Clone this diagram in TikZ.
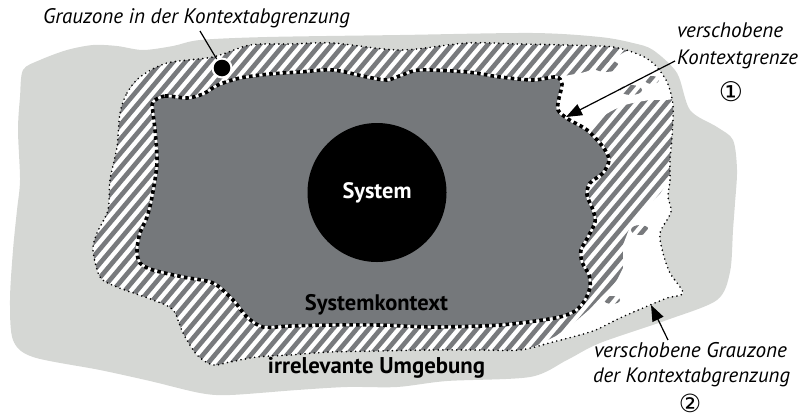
\documentclass[tikz,border=0pt]{standalone}
\usepackage{fontspec}
\setmainfont{PT Sans}
\newfontfamily\symfont{DejaVu Sans}
\usetikzlibrary{arrows.meta}
\definecolor{lgray}{RGB}{213,215,212}
\definecolor{dgray}{RGB}{117,120,123}
\definecolor{sgray}{RGB}{120,122,125}
\newcommand{\fw}[2]{\resizebox{#1pt}{!}{#2}}
\newcommand{\hatchlines}{\foreach \i in {-35,...,68} \draw[sgray, line width=4.6pt] (\i*12, 425) -- ++(364,-433);}
\def\pathG{plot[smooth cycle, tension=0.5] coordinates {(93,45) (117,46) (143,50) (173,46) (200,40) (267,37) (400,35) (533,33) (600,37) (633,43) (653,50) (677,73) (690,110) (717,127) (733,140) (737,170) (735,203) (733,230) (730,272) (717,300) (667,320) (600,343) (567,360) (530,377) (447,381) (397,387) (347,387) (297,390) (230,395) (200,393) (150,381) (100,370) (33,357) (13,340) (10,300) (13,250) (17,210) (20,180) (18,130) (20,97) (23,70) (40,60) (67,50)}}
\def\pathW{plot[smooth cycle, tension=0.5] coordinates {(120,113) (127,93) (140,77) (167,63) (213,57) (250,45) (290,44) (333,43) (400,50) (467,43) (520,44) (567,45) (613,47) (640,55) (655,65) (667,82) (673,105) (672,137) (670,160) (670,180) (668,197) (671,212) (660,233) (663,253) (670,273) (683,293) (667,298) (650,305) (620,318) (593,331) (553,342) (520,350) (480,350) (430,350) (380,351) (330,352) (290,355) (257,357) (230,362) (213,365) (197,355) (183,333) (173,310) (153,300) (117,287) (100,277) (93,250) (97,233) (108,210) (110,180) (117,147)}}
\def\pathK{plot[smooth cycle, tension=0.5] coordinates {(153,102) (165,96) (187,98) (203,94) (218,85) (240,78) (270,74) (300,72) (333,70) (367,77) (387,80) (402,75) (420,70) (467,72) (500,77) (533,80) (556,77) (562,84) (559,98) (558,110) (568,119) (587,130) (603,147) (609,160) (603,173) (590,183) (587,195) (593,210) (595,222) (588,237) (581,250) (582,262) (589,275) (590,287) (585,300) (575,311) (555,318) (500,325) (433,327) (380,325) (330,325) (290,326) (263,327) (247,317) (233,300) (213,283) (183,277) (153,270) (140,263) (137,250) (140,233) (147,217) (152,197) (157,163) (155,130) (153,113)}}
\def\pathWone{plot[smooth cycle, tension=0.5] coordinates {(548,95) (560,78) (585,72) (605,64) (630,50) (655,53) (668,75) (673,98) (650,100) (625,105) (605,115) (590,130) (565,125) (548,110)}}
\def\pathWtwo{(671,176) -- (660,194) -- (645,208) -- (631,224) -- (623,245) -- (623,268) -- (616,282) -- (603,295) -- (590,309) -- (574,323) -- (556,336) -- (538,345) -- (515,354) -- (515,400) -- (760,400) -- (760,176) -- cycle}
\begin{document}
\begin{tikzpicture}[x=1pt,y=-1pt,
  lbl/.style={inner sep=0pt, outer sep=0pt},
  finedot/.style={line width=1.8pt, dash pattern=on 0pt off 4.6pt, line cap=round},
  thickdot/.style={line width=3.6pt, dash pattern=on 3.6pt off 3.2pt},
  ptr/.style={line width=1.2pt, -{Triangle[length=16pt,width=12pt]}}]
\useasboundingbox (0,0) rectangle (802,418);
% irrelevant surroundings
\fill[lgray] \pathG;
% grey zone
\fill[white] \pathW;
\begin{scope}
  \clip \pathW;
  \hatchlines
  \fill[white] \pathWtwo;
  \fill[white] \pathWone;
\end{scope}
% fragments of hatching in the shifted area
\begin{scope}
  \clip (606,66) ellipse (13pt and 6pt) (631,90) ellipse (11pt and 5pt) (652,80) ellipse (7pt and 4pt) (640,230) ellipse (9pt and 5pt) (612,300) ellipse (8pt and 4pt);
  \hatchlines
\end{scope}
% system context
\fill[dgray] \pathK;
\draw[white, line width=2.4pt] \pathK;
\draw[thickdot] \pathK;
\draw[finedot] \pathW;
% system
\node[circle, fill=black, minimum size=139pt, inner sep=0pt, text=white, font=\bfseries] (sys) at (377,192.5) {\fw{69}{System}};
% labels
\node[lbl, anchor=base west] (lgz) at (43,23) {\fw{307}{\itshape Grauzone in der Kontextabgrenzung}};
\coordinate (gzs) at (200,31);
\coordinate (gzdot) at (222,68);
\draw[line width=1.2pt] (gzs) -- (gzdot);
\fill[white] (gzdot) circle (10.5pt);
\fill[black] (gzdot) circle (8.3pt);
\node[lbl, anchor=base] (skx) at (376.5,310) {\fw{143}{\bfseries Systemkontext}};
\node[lbl, anchor=base] (irr) at (376.5,373) {\fw{217}{\bfseries irrelevante Umgebung}};
\node[lbl, anchor=base west] (vk1) at (677,37) {\fw{106}{\itshape verschobene}};
\node[lbl, anchor=base west] (vk2) at (677,64) {\fw{121}{\itshape Kontextgrenze}};
\node[lbl, font=\symfont\fontsize{27}{27}\selectfont] (n1) at (731,92) {①};
\coordinate (a1s) at (675,61);
\coordinate (a1t) at (566,117);
\draw[ptr] (a1s) -- (a1t);
\node[lbl, anchor=base west] (vg1) at (594,357) {\fw{193}{\itshape verschobene Grauzone}};
\node[lbl, anchor=base west] (vg2) at (593,382) {\fw{197}{\itshape der Kontextabgrenzung}};
\node[lbl, font=\symfont\fontsize{25}{25}\selectfont] (n2) at (690,403) {②};
\coordinate (a2s) at (668,340);
\coordinate (a2t) at (651,305);
\draw[ptr] (a2s) -- (a2t);
\end{tikzpicture}
\end{document}
